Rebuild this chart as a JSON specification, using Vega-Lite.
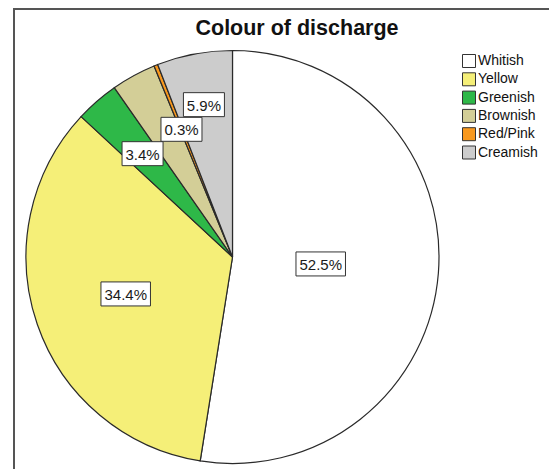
{
  "$schema": "https://vega.github.io/schema/vega-lite/v6.json",
  "width": 535,
  "height": 460,
  "autosize": {"type": "none"},
  "padding": {"left": 14, "top": 9, "right": 0, "bottom": 0},
  "background": "white",
  "title": {
    "text": "Colour of discharge",
    "font": "Liberation Sans",
    "fontSize": 21.5,
    "fontWeight": "bold",
    "color": "#111111",
    "anchor": "middle",
    "baseline": "alphabetic",
    "offset": 0,
    "dx": 15.5,
    "dy": 47
  },
  "data": {
    "values": [
      {"category": "Whitish", "pct": 52.5},
      {"category": "Yellow", "pct": 34.4},
      {"category": "Greenish", "pct": 3.4},
      {"category": "Brownish", "pct": 3.5},
      {"category": "Red/Pink", "pct": 0.3},
      {"category": "Creamish", "pct": 5.9}
    ]
  },
  "transform": [
    {"calculate": "indexof(['Whitish','Yellow','Greenish','Brownish','Red/Pink','Creamish'], datum.category)", "as": "ord"},
    {"stack": "pct", "groupby": [], "sort": [{"field": "ord", "order": "ascending"}], "as": ["t0", "t1"]},
    {"calculate": "PI * (datum.t0 + datum.t1) / 100", "as": "ang"},
    {"calculate": "datum.category == 'Whitish' ? 88.5 : datum.category == 'Yellow' ? 113 : datum.category == 'Greenish' ? 137 : datum.category == 'Red/Pink' ? 137.5 : datum.category == 'Creamish' ? 155 : 0", "as": "lr"},
    {"calculate": "datum.lr * sin(datum.ang)", "as": "lx"},
    {"calculate": "datum.lr * cos(datum.ang)", "as": "ly"},
    {"calculate": "format(datum.pct, '.1f') + '%'", "as": "label"}
  ],
  "layer": [
    {
      "mark": {"type": "arc", "outerRadius": 206.5, "stroke": "#2a2a2a", "strokeWidth": 1.2},
      "encoding": {
        "x": {"datum": 0, "type": "quantitative", "scale": {"domain": [-218.5, 316.5], "nice": false, "zero": false}, "axis": null},
        "y": {"datum": 0, "type": "quantitative", "scale": {"domain": [-212, 248], "nice": false, "zero": false}, "axis": null},
        "theta": {"field": "t0", "type": "quantitative", "scale": {"domain": [0, 100]}},
        "theta2": {"field": "t1"},
        "color": {
          "field": "category",
          "type": "nominal",
          "sort": ["Whitish", "Yellow", "Greenish", "Brownish", "Red/Pink", "Creamish"],
          "scale": {
            "domain": ["Whitish", "Yellow", "Greenish", "Brownish", "Red/Pink", "Creamish"],
            "range": ["#ffffff", "#f5ef78", "#2eb848", "#d3ce97", "#f8981d", "#cccccc"]
          },
          "legend": {
            "title": null,
            "orient": "none",
            "legendX": 448,
            "legendY": 45,
            "padding": 0,
            "symbolType": "square",
            "symbolSize": 169,
            "symbolStrokeColor": "#333333",
            "symbolStrokeWidth": 1,
            "symbolOpacity": 1,
            "labelFont": "Liberation Sans",
            "labelFontSize": 14,
            "labelColor": "#111111",
            "labelOffset": 2,
            "rowPadding": 0.3
          }
        }
      }
    },
    {
      "transform": [{"filter": "datum.lr > 0"}],
      "mark": {"type": "point", "filled": true, "fill": "white", "stroke": "#333333", "strokeWidth": 1, "opacity": 1},
      "encoding": {
        "x": {"field": "lx", "type": "quantitative"},
        "y": {"field": "ly", "type": "quantitative"},
        "size": {"condition": {"test": "length(datum.label) > 4", "value": 2450}, "value": 1681},
        "shape": {"condition": {"test": "length(datum.label) > 4", "value": "M-1,-0.485H1V0.485H-1Z"}, "value": "M-1,-0.585H1V0.585H-1Z"}
      }
    },
    {
      "transform": [{"filter": "datum.lr > 0"}],
      "mark": {"type": "text", "font": "Liberation Sans", "fontSize": 15, "color": "#1a1a1a", "align": "center", "baseline": "middle", "dy": 1},
      "encoding": {
        "x": {"field": "lx", "type": "quantitative"},
        "y": {"field": "ly", "type": "quantitative"},
        "text": {"field": "label"}
      }
    }
  ],
  "config": {
    "font": "Liberation Sans",
    "view": {"stroke": "#555555", "strokeWidth": 2, "strokeDash": [535, 995, 460]}
  }
}
